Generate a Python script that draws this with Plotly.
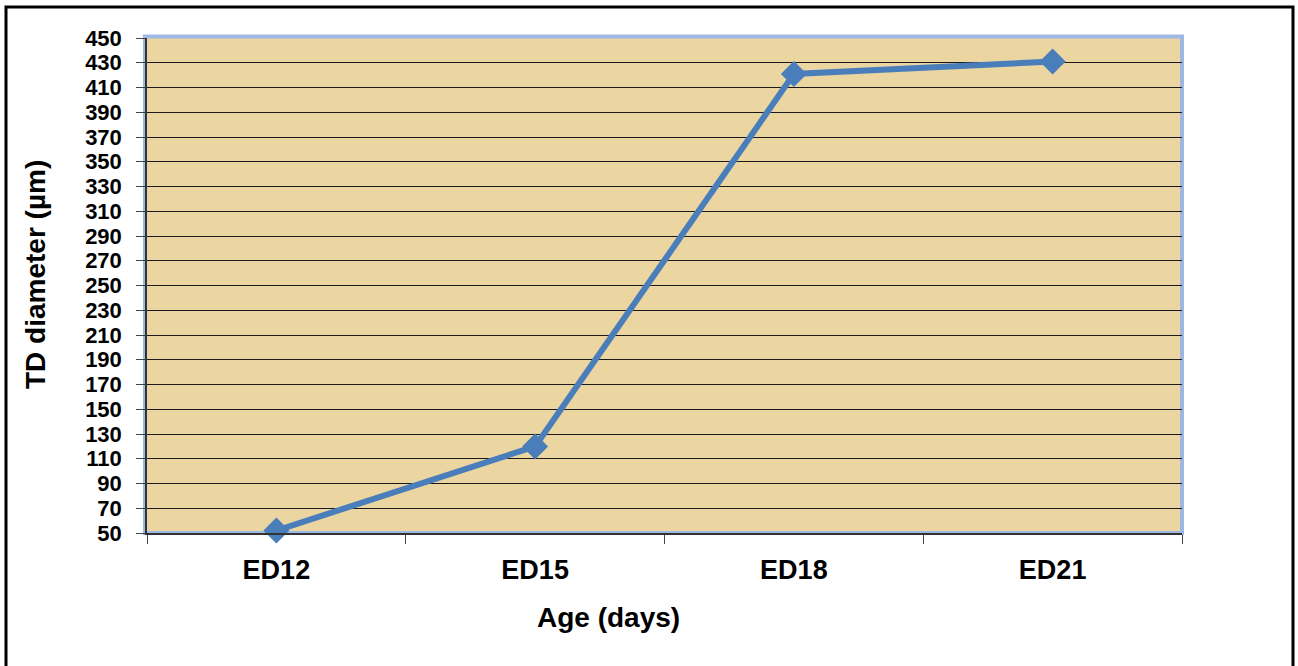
import plotly.graph_objects as go

# Tibial diameter by embryonic age
ages = ["ED12", "ED15", "ED18", "ED21"]
diameter_um = [52, 120, 421, 431]
y_ticks = list(range(50, 451, 20))

W, H = 1298, 666
L, R, T, B = 147, 116, 38, 133
pw, ph = W - L - R, H - T - B

def px_x(x):
    return (x - L) / pw

def px_y(y):
    return (H - B - y) / ph

font_family = "Liberation Sans, Arial, sans-serif"

fig = go.Figure()
fig.add_trace(go.Scatter(
    x=ages,
    y=diameter_um,
    mode="lines+markers",
    line=dict(color="#4a7ebb", width=6),
    marker=dict(symbol="diamond", size=20, color="#4a7ebb"),
    showlegend=False,
    cliponaxis=False,
))

fig.update_layout(
    width=W,
    height=H,
    margin=dict(l=L, r=R, t=T, b=B),
    paper_bgcolor="white",
    plot_bgcolor="#ebd5a1",
    font=dict(family=font_family, color="black"),
    xaxis=dict(
        type="category",
        range=[-0.5, 3.5],
        tickson="boundaries",
        ticks="outside",
        ticklen=9,
        tickcolor="#444",
        tickwidth=1,
        showline=True,
        linecolor="#333",
        linewidth=1.5,
        showgrid=False,
        tickfont=dict(size=27, family=font_family, weight="bold"),
        ticklabelstandoff=12,
    ),
    yaxis=dict(
        range=[50, 450],
        tickvals=y_ticks,
        ticktext=[str(v) for v in y_ticks],
        ticks="outside",
        ticklen=9,
        tickcolor="#444",
        tickwidth=1,
        showline=True,
        linecolor="#333",
        linewidth=1.5,
        showgrid=True,
        gridcolor="#1a1a1a",
        gridwidth=1.2,
        zeroline=False,
        tickfont=dict(size=22, family=font_family, weight="bold"),
        ticklabelstandoff=10,
    ),
    shapes=[
        # light blue frame of the plot area
        dict(type="rect", xref="paper", yref="paper", x0=-0.002, x1=1.0, y0=0, y1=1.003,
             line=dict(color="#9db8e4", width=4), layer="below"),
        # outer frame of the whole chart
        dict(type="rect", xref="paper", yref="paper",
             x0=px_x(6), x1=px_x(1293), y0=px_y(680), y1=px_y(7),
             line=dict(color="black", width=3)),
    ],
    annotations=[
        dict(text="Age (days)", xref="paper", yref="paper", x=px_x(608), y=px_y(617),
             showarrow=False, xanchor="center", yanchor="middle",
             font=dict(size=28, family=font_family, weight="bold")),
        dict(text="TD diameter (µm)", xref="paper", yref="paper", x=px_x(35), y=px_y(275),
             showarrow=False, xanchor="center", yanchor="middle", textangle=-90,
             font=dict(size=28, family=font_family, weight="bold")),
    ],
)

fig.write_html("out.html")
